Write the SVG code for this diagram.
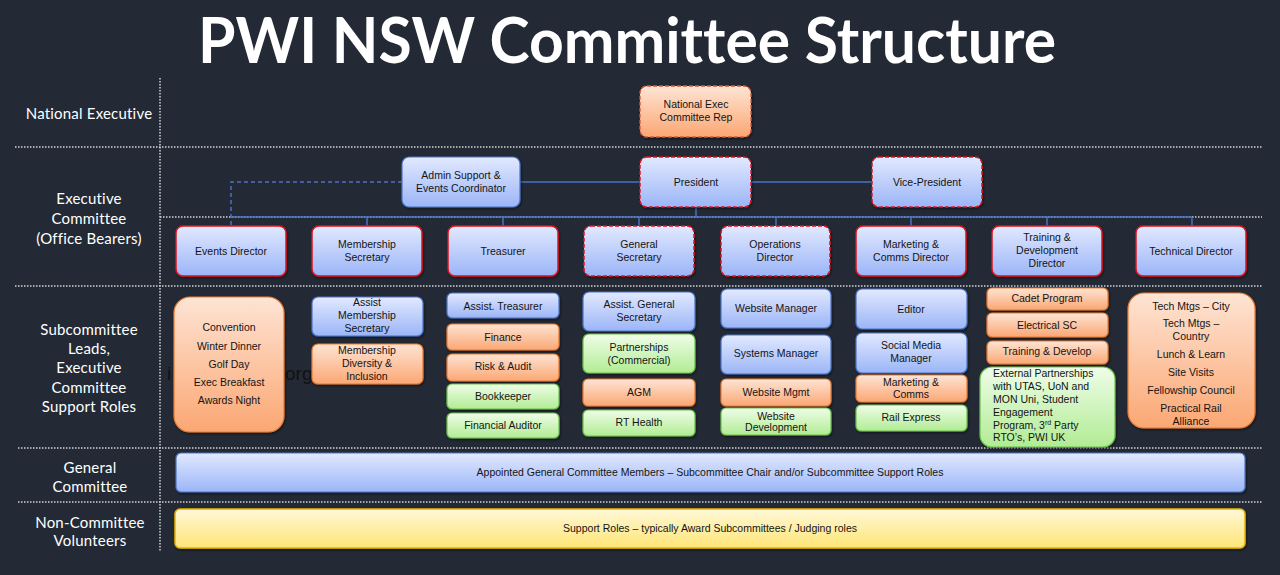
<svg xmlns="http://www.w3.org/2000/svg" width="1280" height="575" viewBox="0 0 1280 575">
<defs>
<linearGradient id="gB" x1="0" y1="0" x2="0" y2="1"><stop offset="0" stop-color="#e2e9ff"/><stop offset="1" stop-color="#9bb5f7"/></linearGradient>
<linearGradient id="gO" x1="0" y1="0" x2="0" y2="1"><stop offset="0" stop-color="#fee4d4"/><stop offset="1" stop-color="#fba773"/></linearGradient>
<linearGradient id="gG" x1="0" y1="0" x2="0" y2="1"><stop offset="0" stop-color="#effde8"/><stop offset="1" stop-color="#b1ec94"/></linearGradient>
<linearGradient id="gY" x1="0" y1="0" x2="0" y2="1"><stop offset="0" stop-color="#fff8d8"/><stop offset="1" stop-color="#ffe576"/></linearGradient>
<filter id="sh" x="-10%" y="-10%" width="130%" height="140%"><feDropShadow dx="1" dy="1.5" stdDeviation="1.2" flood-color="#000" flood-opacity="0.5"/></filter>
</defs>
<style>
.title{font-family:Lato,"Open Sans",sans-serif;font-weight:700;font-size:63px;fill:#ffffff;text-anchor:middle;font-variant-ligatures:none}
.lbl{font-family:Lato,"Liberation Sans",sans-serif;font-size:15px;fill:#ffffff;text-anchor:middle;dominant-baseline:central;letter-spacing:0.2px}
.t{font-family:"Liberation Sans",Arial,sans-serif;font-size:10.5px;fill:#141414;text-anchor:middle;dominant-baseline:central}
.tl{font-family:"Liberation Sans",Arial,sans-serif;font-size:10.5px;fill:#141414;dominant-baseline:central}
.blue{fill:url(#gB);stroke:#4a72c4;stroke-width:1.2;filter:url(#sh)}
.exec{fill:url(#gB);stroke:#e0141e;stroke-width:1.5;filter:url(#sh)}
.execd{fill:url(#gB);stroke:#e0141e;stroke-width:1.5;stroke-dasharray:4 2;filter:url(#sh)}
.or{fill:url(#gO);stroke:#ea7a30;stroke-width:1.2;filter:url(#sh)}
.ord{fill:url(#gO);stroke:#d0583a;stroke-width:1.3;stroke-dasharray:4 2;filter:url(#sh)}
.gr{fill:url(#gG);stroke:#6cbf4c;stroke-width:1.2;filter:url(#sh)}
.ye{fill:url(#gY);stroke:#e8b400;stroke-width:1.5;filter:url(#sh)}
.div{stroke:#d4d4d4;stroke-width:1.5;stroke-dasharray:1.5 1.5;fill:none}
.conn{stroke:#4a72c4;stroke-width:1.5;fill:none}
</style>
<rect x="0" y="0" width="1280" height="575" fill="#232a35"/>
<text class="title" x="627" y="63" textLength="858" lengthAdjust="spacingAndGlyphs">PWI NSW Committee Structure</text>

<g id="dividers">
<line class="div" x1="160" y1="78" x2="160" y2="552"/>
<line class="div" x1="15" y1="147" x2="1262" y2="147"/>
<line class="div" x1="160" y1="217" x2="1262" y2="217"/>
<line class="div" x1="15" y1="286" x2="1262" y2="286"/>
<line class="div" x1="18" y1="448" x2="1262" y2="448"/>
<line class="div" x1="18" y1="502" x2="1262" y2="502"/>
</g>

<g id="row-labels">
<text class="lbl" x="89" y="113">National Executive</text>
<text class="lbl" x="89" y="198">Executive</text>
<text class="lbl" x="89" y="218">Committee</text>
<text class="lbl" x="89" y="238">(Office Bearers)</text>
<text class="lbl" x="89" y="329">Subcommittee</text>
<text class="lbl" x="89" y="348">Leads,</text>
<text class="lbl" x="89" y="367">Executive</text>
<text class="lbl" x="89" y="387">Committee</text>
<text class="lbl" x="89" y="406">Support Roles</text>
<text class="lbl" x="90" y="467">General</text>
<text class="lbl" x="90" y="486">Committee</text>
<text class="lbl" x="90" y="522">Non-Committee</text>
<text class="lbl" x="90" y="540">Volunteers</text>
</g>

<g id="backdrop-text" font-family="'Liberation Sans',Arial,sans-serif" font-size="19" fill="#111111">
<text x="167" y="380">i</text>
<text x="285" y="380">org</text>
</g>

<g id="connectors">
<path class="conn" d="M402 182 H231 V226" stroke-dasharray="4 3"/>
<line class="conn" x1="520" y1="182" x2="640" y2="182"/>
<line class="conn" x1="751" y1="182" x2="872" y2="182"/>
<line class="conn" x1="696" y1="207" x2="696" y2="217" stroke-width="3"/>
<line class="conn" x1="231" y1="217" x2="1192" y2="217" stroke-width="2"/>
<line class="conn" x1="367" y1="217" x2="367" y2="226"/>
<line class="conn" x1="503" y1="217" x2="503" y2="226"/>
<line class="conn" x1="639" y1="217" x2="639" y2="226"/>
<line class="conn" x1="776" y1="217" x2="776" y2="226"/>
<line class="conn" x1="911" y1="217" x2="911" y2="226"/>
<line class="conn" x1="1047" y1="217" x2="1047" y2="226"/>
<line class="conn" x1="1192" y1="217" x2="1192" y2="226"/>
</g>

<g id="national-exec-rep"><rect class="ord" x="640" y="86" width="111" height="51" rx="7"/><text class="t" x="696" y="104">National Exec</text><text class="t" x="696" y="117">Committee Rep</text></g>
<g id="admin-support"><rect class="blue" x="402" y="157" width="118" height="50" rx="7"/><text class="t" x="461" y="175">Admin Support &amp;</text><text class="t" x="461" y="188">Events Coordinator</text></g>
<g id="president"><rect class="execd" x="640" y="157" width="111" height="50" rx="7"/><text class="t" x="696" y="182">President</text></g>
<g id="vice-president"><rect class="execd" x="872" y="157" width="110" height="50" rx="7"/><text class="t" x="927" y="182">Vice-President</text></g>

<g id="events-director"><rect class="exec" x="176" y="226" width="110" height="50" rx="7"/><text class="t" x="231" y="251">Events Director</text></g>
<g id="membership-secretary"><rect class="exec" x="312" y="226" width="110" height="50" rx="7"/><text class="t" x="367" y="244">Membership</text><text class="t" x="367" y="257">Secretary</text></g>
<g id="treasurer"><rect class="exec" x="448" y="226" width="110" height="50" rx="7"/><text class="t" x="503" y="251">Treasurer</text></g>
<g id="general-secretary"><rect class="execd" x="584" y="226" width="110" height="50" rx="7"/><text class="t" x="639" y="244">General</text><text class="t" x="639" y="257">Secretary</text></g>
<g id="operations-director"><rect class="execd" x="721" y="226" width="109" height="50" rx="7"/><text class="t" x="775" y="244">Operations</text><text class="t" x="775" y="257">Director</text></g>
<g id="marketing-comms-director"><rect class="exec" x="856" y="226" width="110" height="50" rx="7"/><text class="t" x="911" y="244">Marketing &amp;</text><text class="t" x="911" y="257">Comms Director</text></g>
<g id="training-development-director"><rect class="exec" x="992" y="226" width="110" height="50" rx="7"/><text class="t" x="1047" y="237">Training &amp;</text><text class="t" x="1047" y="250">Development</text><text class="t" x="1047" y="263">Director</text></g>
<g id="technical-director"><rect class="exec" x="1136" y="226" width="110" height="50" rx="7"/><text class="t" x="1191" y="251">Technical Director</text></g>

<g id="events-subcommittees"><rect class="or" x="174" y="297" width="110" height="135" rx="16"/>
<text class="t" x="229" y="327">Convention</text><text class="t" x="229" y="346">Winter Dinner</text><text class="t" x="229" y="364">Golf Day</text><text class="t" x="229" y="382">Exec Breakfast</text><text class="t" x="229" y="400">Awards Night</text></g>
<g id="assist-membership-secretary"><rect class="blue" x="312" y="297" width="111" height="39" rx="6"/><text class="t" x="367" y="302">Assist</text><text class="t" x="367" y="315">Membership</text><text class="t" x="367" y="328">Secretary</text></g>
<g id="membership-diversity"><rect class="or" x="312" y="344" width="111" height="40" rx="6"/><text class="t" x="367" y="350">Membership</text><text class="t" x="367" y="363">Diversity &amp;</text><text class="t" x="367" y="376">Inclusion</text></g>

<g id="assist-treasurer"><rect class="blue" x="447" y="293" width="112" height="25" rx="5"/><text class="t" x="503" y="306">Assist. Treasurer</text></g>
<g id="finance"><rect class="or" x="447" y="324" width="112" height="26" rx="5"/><text class="t" x="503" y="337">Finance</text></g>
<g id="risk-audit"><rect class="or" x="447" y="354" width="112" height="27" rx="5"/><text class="t" x="503" y="366">Risk &amp; Audit</text></g>
<g id="bookkeeper"><rect class="gr" x="447" y="384" width="112" height="25" rx="5"/><text class="t" x="503" y="396">Bookkeeper</text></g>
<g id="financial-auditor"><rect class="gr" x="447" y="413" width="112" height="25" rx="5"/><text class="t" x="503" y="425">Financial Auditor</text></g>

<g id="assist-general-secretary"><rect class="blue" x="583" y="292" width="112" height="39" rx="6"/><text class="t" x="639" y="304">Assist. General</text><text class="t" x="639" y="317">Secretary</text></g>
<g id="partnerships"><rect class="gr" x="583" y="334" width="112" height="39" rx="6"/><text class="t" x="639" y="347">Partnerships</text><text class="t" x="639" y="360">(Commercial)</text></g>
<g id="agm"><rect class="or" x="583" y="379" width="112" height="27" rx="5"/><text class="t" x="639" y="392">AGM</text></g>
<g id="rt-health"><rect class="gr" x="583" y="410" width="112" height="26" rx="5"/><text class="t" x="639" y="422">RT Health</text></g>

<g id="website-manager"><rect class="blue" x="721" y="289" width="110" height="39" rx="6"/><text class="t" x="776" y="308">Website Manager</text></g>
<g id="systems-manager"><rect class="blue" x="721" y="335" width="110" height="39" rx="6"/><text class="t" x="776" y="353">Systems Manager</text></g>
<g id="website-mgmt"><rect class="or" x="721" y="379" width="110" height="27" rx="5"/><text class="t" x="776" y="392">Website Mgmt</text></g>
<g id="website-development"><rect class="gr" x="721" y="408" width="110" height="27" rx="5"/><text class="t" x="776" y="416" font-size="9">Website</text><text class="t" x="776" y="427" font-size="9">Development</text></g>

<g id="editor"><rect class="blue" x="856" y="289" width="111" height="40" rx="6"/><text class="t" x="911" y="309">Editor</text></g>
<g id="social-media-manager"><rect class="blue" x="856" y="333" width="111" height="40" rx="6"/><text class="t" x="911" y="345">Social Media</text><text class="t" x="911" y="358">Manager</text></g>
<g id="marketing-comms"><rect class="or" x="856" y="375" width="111" height="27" rx="5"/><text class="t" x="911" y="382">Marketing &amp;</text><text class="t" x="911" y="394">Comms</text></g>
<g id="rail-express"><rect class="gr" x="856" y="405" width="111" height="26" rx="5"/><text class="t" x="911" y="417">Rail Express</text></g>

<g id="cadet-program"><rect class="or" x="987" y="288" width="121" height="22" rx="5"/><text class="t" x="1047" y="298">Cadet Program</text></g>
<g id="electrical-sc"><rect class="or" x="987" y="313" width="121" height="24" rx="5"/><text class="t" x="1047" y="325">Electrical SC</text></g>
<g id="training-develop"><rect class="or" x="987" y="341" width="121" height="23" rx="5"/><text class="t" x="1047" y="351">Training &amp; Develop</text></g>
<g id="external-partnerships"><rect class="gr" x="980" y="367" width="135" height="80" rx="12"/>
<text class="tl" x="993" y="373">External Partnerships</text>
<text class="tl" x="993" y="386">with UTAS, UoN and</text>
<text class="tl" x="993" y="399">MON Uni, Student</text>
<text class="tl" x="993" y="412">Engagement</text>
<text class="tl" x="993" y="425">Program, 3<tspan font-size="7" dy="-3">rd</tspan><tspan dy="3"> Party</tspan></text>
<text class="tl" x="993" y="437">RTO’s, PWI UK</text></g>

<g id="technical-subcommittees"><rect class="or" x="1128" y="293" width="127" height="135" rx="16"/>
<text class="t" x="1191" y="306">Tech Mtgs – City</text>
<text class="t" x="1191" y="323">Tech Mtgs –</text>
<text class="t" x="1191" y="336">Country</text>
<text class="t" x="1191" y="354">Lunch &amp; Learn</text>
<text class="t" x="1191" y="372">Site Visits</text>
<text class="t" x="1191" y="390">Fellowship Council</text>
<text class="t" x="1191" y="408">Practical Rail</text>
<text class="t" x="1191" y="421">Alliance</text></g>

<g id="general-committee"><rect class="blue" x="176" y="453" width="1069" height="39" rx="5"/><text class="t" x="710" y="472" font-size="10.3">Appointed General Committee Members – Subcommittee Chair and/or Subcommittee Support Roles</text></g>
<g id="non-committee-volunteers"><rect class="ye" x="175" y="509" width="1070" height="39" rx="5"/><text class="t" x="710" y="528" font-size="10">Support Roles – typically Award Subcommittees / Judging roles</text></g>
</svg>
